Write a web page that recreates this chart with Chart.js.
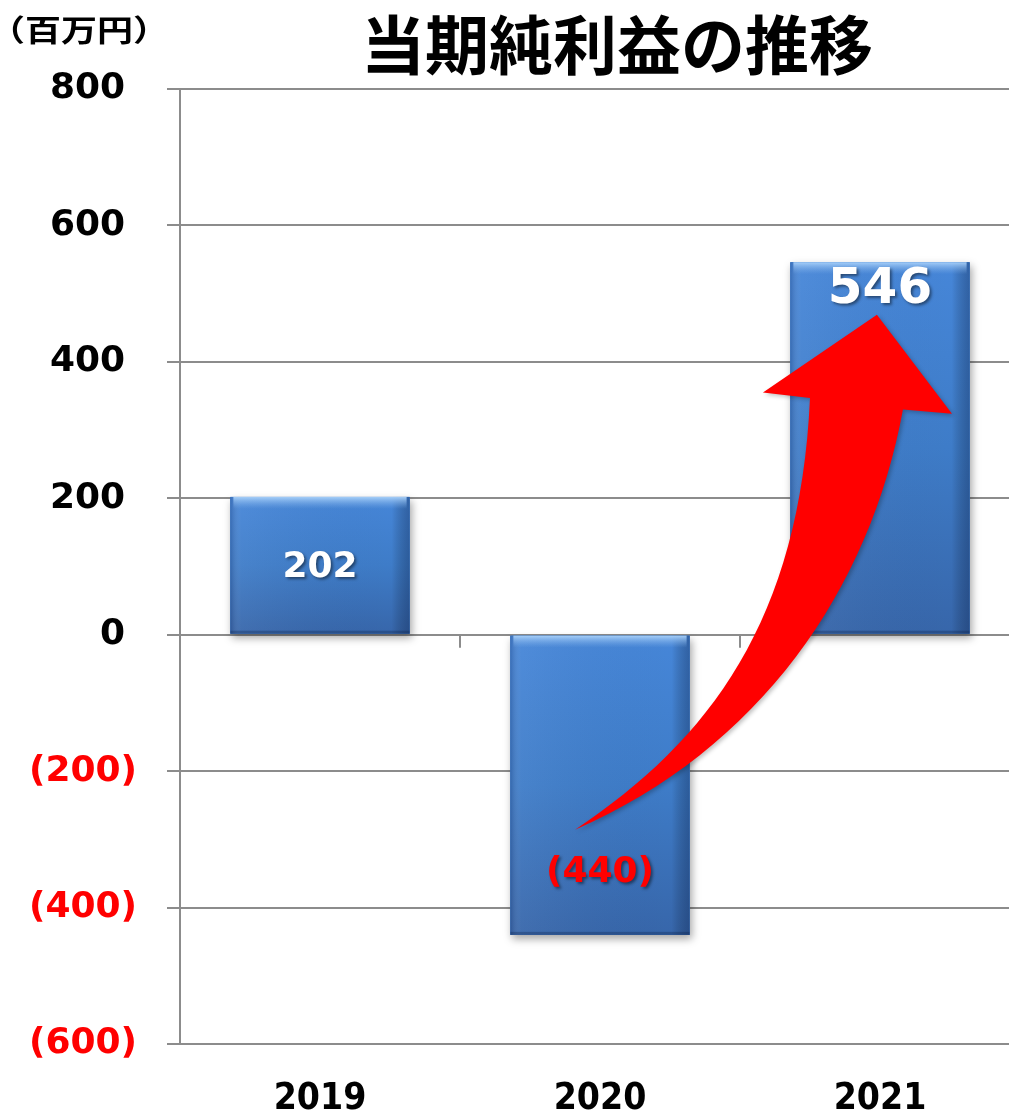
<!DOCTYPE html>
<html>
<head>
<meta charset="utf-8">
<script src="https://cdn.jsdelivr.net/npm/chart.js@4/dist/chart.umd.min.js"></script>
<style>
  html, body { margin: 0; padding: 0; background: #fff; overflow: hidden; }
  #wrap { width: 1022px; height: 1113px; position: relative; }
</style>
</head>
<body>
<div id="wrap"><canvas id="profitChart"></canvas></div>
<script>
// ------------------ Data ------------------
const years = ["2019", "2020", "2021"];
const netIncome = [202, -440, 546];
const yTickValues = [-600, -400, -200, 0, 200, 400, 600, 800];
const chartTitle = "当期純利益の推移";
const unitLabel = "（百万円）";

// accounting style: negatives in brackets
const fmt = v => (v < 0 ? "(" + (-v) + ")" : String(v));
const GRID = "#8c8c8c";

// ------------------ Decorations ------------------
const decorPlugin = {
  id: "decor",
  beforeDatasetsDraw(chart) {
    const ctx = chart.ctx;
    const meta = chart.getDatasetMeta(0);
    ctx.save();
    meta.data.forEach(bar => {
      const top = Math.min(bar.y, bar.base), h = Math.abs(bar.base - bar.y);
      ctx.shadowColor = "rgba(0,0,0,0.35)";
      ctx.shadowBlur = 8;
      ctx.shadowOffsetX = 2;
      ctx.shadowOffsetY = 4;
      ctx.fillStyle = "#3568ad";
      ctx.fillRect(bar.x - bar.width / 2, top, bar.width, h);
    });
    ctx.restore();
  },
  afterDatasetsDraw(chart) {
    const ctx = chart.ctx;
    const meta = chart.getDatasetMeta(0);
    const x = chart.scales.x, y = chart.scales.y;

    // bar shading
    ctx.save();
    meta.data.forEach(bar => {
      const l = bar.x - bar.width / 2, w = bar.width;
      const top = Math.min(bar.y, bar.base), h = Math.abs(bar.base - bar.y);
      let g = ctx.createLinearGradient(0, top, 0, top + h);
      g.addColorStop(0, "#4686d8");
      g.addColorStop(0.5, "#3e7cc8");
      g.addColorStop(1, "#3766aa");
      ctx.fillStyle = g;
      ctx.fillRect(l, top, w, h);
      g = ctx.createLinearGradient(l, 0, l + w, 0);
      g.addColorStop(0, "rgba(20,40,90,0.25)");
      g.addColorStop(0.06, "rgba(255,255,255,0.05)");
      g.addColorStop(0.9, "rgba(0,0,0,0)");
      g.addColorStop(1, "rgba(10,30,70,0.35)");
      ctx.fillStyle = g;
      ctx.fillRect(l, top, w, h);
      g = ctx.createLinearGradient(0, top, 0, top + 12);
      g.addColorStop(0, "rgba(170,210,250,0.95)");
      g.addColorStop(1, "rgba(120,170,230,0)");
      ctx.fillStyle = g;
      ctx.fillRect(l + 3, top, w - 6, 12);
      ctx.fillStyle = "rgba(10,30,70,0.3)";
      ctx.fillRect(l, top + h - 3, w, 3);
    });
    ctx.restore();

    // small category ticks on the zero line
    const y0 = y.getPixelForValue(0);
    ctx.save();
    ctx.strokeStyle = GRID;
    ctx.lineWidth = 2;
    for (let i = 1; i < years.length; i++) {
      const px = x.left + (x.right - x.left) * i / years.length;
      ctx.beginPath();
      ctx.moveTo(px, y0);
      ctx.lineTo(px, y0 + 13);
      ctx.stroke();
    }
    ctx.restore();

    // curved red arrow (category index units, value units)
    const P = (ix, v) => [x.left + (x.right - x.left) * ix / years.length, y.getPixelForValue(v)];
    const tail = P(1.411, -286);
    const l1 = P(1.893, -154), l2 = P(2.214, 22), lIn = P(2.25, 347);
    const lBarb = P(2.082, 355), tip = P(2.489, 469), rBarb = P(2.757, 324);
    const rIn = P(2.582, 330), r1 = P(2.464, 66), r2 = P(2.071, -168);
    ctx.save();
    ctx.shadowColor = "rgba(0,0,0,0.25)";
    ctx.shadowBlur = 4;
    ctx.shadowOffsetX = 2;
    ctx.shadowOffsetY = 2;
    ctx.fillStyle = "#ff0000";
    ctx.beginPath();
    ctx.moveTo(...tail);
    ctx.bezierCurveTo(...l1, ...l2, ...lIn);
    ctx.lineTo(...lBarb);
    ctx.lineTo(...tip);
    ctx.lineTo(...rBarb);
    ctx.lineTo(...rIn);
    ctx.bezierCurveTo(...r1, ...r2, ...tail);
    ctx.closePath();
    ctx.fill();
    ctx.restore();

    // value labels
    ctx.save();
    ctx.textAlign = "center";
    ctx.textBaseline = "middle";
    ctx.shadowColor = "rgba(0,0,0,0.45)";
    ctx.shadowBlur = 3;
    ctx.shadowOffsetX = 2;
    ctx.shadowOffsetY = 2;
    meta.data.forEach((bar, i) => {
      const v = netIncome[i];
      let ly, size, color;
      if (i === 0) { ly = (bar.y + bar.base) / 2 + 2; size = 36; color = "#ffffff"; }
      else if (v < 0) { ly = bar.y - 62; size = 36; color = "#ff0000"; }
      else { ly = bar.y + 28; size = 50; color = "#ffffff"; }
      ctx.font = `bold ${size}px "DejaVu Sans", Verdana, sans-serif`;
      ctx.fillStyle = color;
      ctx.fillText(fmt(v), bar.x, ly);
    });
    ctx.restore();
  },
  afterDraw(chart) {
    const ctx = chart.ctx;
    ctx.save();
    ctx.fillStyle = "#000";
    ctx.textBaseline = "middle";
    ctx.textAlign = "center";
    ctx.font = 'bold 64px "Noto Sans CJK JP", sans-serif';
    ctx.fillText(chartTitle, 617, 45);
    ctx.textAlign = "left";
    ctx.font = 'bold 30px "Noto Sans CJK JP", sans-serif';
    ctx.translate(-11, 30);
    ctx.scale(1.2, 1);
    ctx.fillText(unitLabel, 0, 0);
    ctx.restore();
  }
};

// ------------------ Chart ------------------
new Chart(document.getElementById("profitChart").getContext("2d"), {
  type: "bar",
  data: {
    labels: years,
    datasets: [{
      label: "当期純利益",
      data: netIncome,
      backgroundColor: "#3e7cc8",
      borderWidth: 0,
      categoryPercentage: 1,
      barPercentage: 0.64
    }]
  },
  options: {
    responsive: true,
    maintainAspectRatio: false,
    animation: false,
    layout: { padding: { top: 89, right: 2, left: 0, bottom: 0 } },
    plugins: {
      legend: { display: false },
      title: { display: false },
      tooltip: { enabled: false }
    },
    scales: {
      x: {
        grid: { display: false, drawTicks: false },
        border: { display: false },
        ticks: {
          color: "#000",
          padding: 33,
          font: { family: '"DejaVu Sans Condensed", "DejaVu Sans", sans-serif', size: 37, weight: "bold" }
        },
        afterFit: s => { s.height = 69; }
      },
      y: {
        min: -600,
        max: 800,
        afterBuildTicks: s => { s.ticks = yTickValues.map(v => ({ value: v })); },
        grid: { color: GRID, lineWidth: 2, tickLength: 13 },
        border: { color: GRID, width: 2 },
        ticks: {
          padding: 30,
          crossAlign: "near",
          // positives get a thin trailing space so digits line up before the ")"
          callback: v => (v < 0 ? fmt(v) : fmt(v) + "\u2004"),
          color: c => (c.tick && c.tick.value < 0 ? "#ff0000" : "#000000"),
          font: { family: '"DejaVu Sans", Verdana, sans-serif', size: 36, weight: "bold" }
        },
        afterFit: s => { s.width = 180; }
      }
    }
  },
  plugins: [decorPlugin]
});
</script>
</body>
</html>
